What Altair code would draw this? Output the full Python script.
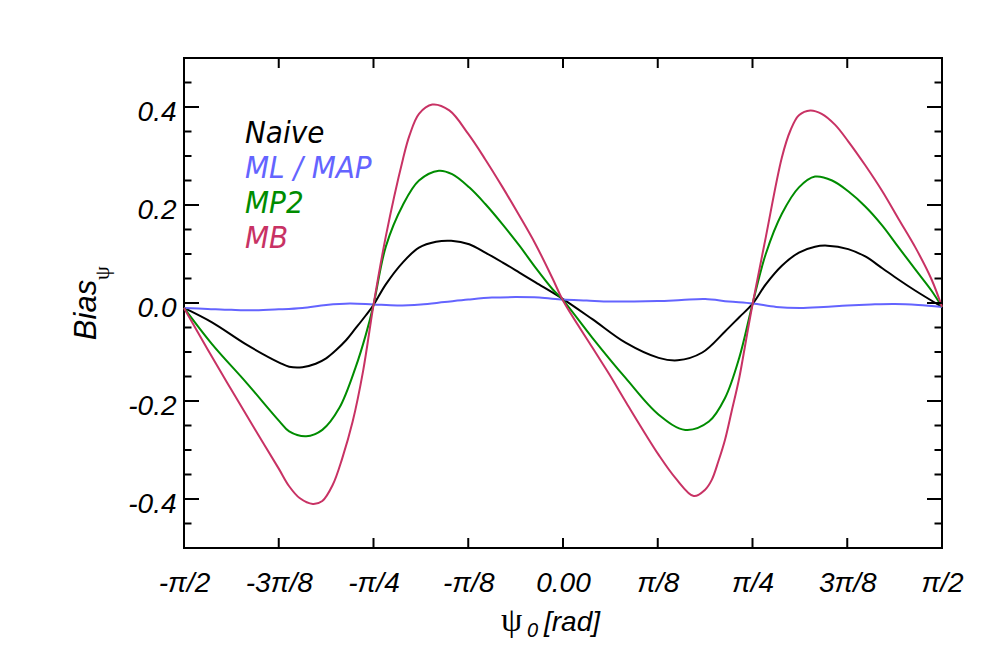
import json
import altair as alt
import pandas as pd

# x positions are in units of pi/8 (from -pi/2 = -4 to pi/2 = 4)
naive_x = [-4.0, -3.70, -3.34, -2.99, -2.89, -2.75, -2.61, -2.50, -2.40, -2.29, -2.19, -2.08,
           -2.0, -1.87, -1.69, -1.52, -1.34, -1.18, -0.99, -0.82, -0.64, -0.46, -0.29, 0.0,
           0.31, 0.66, 1.01, 1.21, 1.47, 1.71, 1.86, 2.0, 2.14, 2.31, 2.49, 2.66, 2.79,
           3.01, 3.19, 3.37, 3.54, 3.72, 4.0]
naive_y = [-0.010, -0.040, -0.085, -0.122, -0.130, -0.131, -0.124, -0.113, -0.097, -0.076, -0.052, -0.025,
           -0.004, 0.038, 0.083, 0.113, 0.125, 0.127, 0.120, 0.103, 0.083, 0.062, 0.042, 0.008,
           -0.033, -0.081, -0.112, -0.117, -0.101, -0.058, -0.029, -0.002, 0.038, 0.076, 0.103, 0.115, 0.117,
           0.110, 0.095, 0.071, 0.048, 0.025, -0.008]

ml_x = [-4.0, -3.75, -3.5, -3.25, -3.0, -2.75, -2.5, -2.25, -2.0, -1.75, -1.5, -1.25,
        -1.0, -0.75, -0.5, -0.25, 0.0, 0.25, 0.5, 0.75, 1.0, 1.25, 1.5, 1.75,
        2.0, 2.25, 2.5, 2.75, 3.0, 3.25, 3.5, 3.75, 4.0]
ml_y = [-0.010, -0.012, -0.014, -0.015, -0.013, -0.010, -0.004, -0.001, -0.003,
        -0.005, -0.003, 0.002, 0.007, 0.011, 0.012, 0.011, 0.007,
        0.005, 0.003, 0.003, 0.004, 0.006, 0.008, 0.003, -0.001,
        -0.008, -0.010, -0.008, -0.005, -0.003, -0.002, -0.004, -0.008]

mp2_x = [-4.0, -3.70, -3.34, -2.99, -2.89, -2.71, -2.54, -2.36, -2.19, -2.08, -2.0, -1.87,
         -1.69, -1.52, -1.31, -1.17, -0.99, -0.82, -0.64, -0.46, -0.29, -0.11, 0.0,
         0.31, 0.66, 1.01, 1.29, 1.54, 1.71, 1.86, 2.0, 2.14, 2.31, 2.49, 2.66, 2.84,
         3.01, 3.19, 3.37, 3.54, 3.72, 3.89, 4.0]
mp2_y = [-0.010, -0.085, -0.163, -0.242, -0.262, -0.272, -0.259, -0.214, -0.132, -0.064, -0.004, 0.115,
         0.200, 0.250, 0.270, 0.263, 0.236, 0.202, 0.161, 0.117, 0.072, 0.028, 0.006,
         -0.071, -0.153, -0.228, -0.259, -0.242, -0.194, -0.112, -0.002, 0.100, 0.182, 0.236, 0.258, 0.250,
         0.228, 0.197, 0.158, 0.114, 0.068, 0.025, -0.008]

mb_x = [-4.0, -3.75, -3.5, -3.25, -3.0, -2.89, -2.78, -2.64, -2.54, -2.43, -2.33, -2.22, -2.11,
        -2.0, -1.87, -1.69, -1.62, -1.52, -1.38, -1.20, -1.0, -0.82, -0.64, -0.46, -0.29, -0.11,
        0.0, 0.31, 0.49, 0.66, 1.01, 1.19, 1.38, 1.50, 1.57, 1.64, 1.71, 1.78, 1.86, 1.93,
        2.0, 2.14, 2.31, 2.40, 2.49, 2.61, 2.73, 2.87, 3.01, 3.19, 3.37, 3.54, 3.72, 3.89, 4.0]
mb_y = [-0.010, -0.095, -0.177, -0.258, -0.338, -0.374, -0.398, -0.410, -0.404, -0.371, -0.317, -0.242, -0.139,
        -0.004, 0.136, 0.293, 0.342, 0.386, 0.405, 0.393, 0.345, 0.293, 0.237, 0.178, 0.120, 0.050,
        0.005, -0.091, -0.146, -0.201, -0.310, -0.358, -0.394, -0.381, -0.361, -0.323, -0.279, -0.221, -0.153, -0.078,
        -0.003, 0.134, 0.297, 0.352, 0.383, 0.393, 0.386, 0.364, 0.330, 0.281, 0.228, 0.172, 0.113, 0.048, -0.008]

series_names = ["Naive", "ML / MAP", "MP2", "MB"]
series_colors = ["#000000", "#6464ff", "#008c00", "#c83264"]

x_label_values = [-4, -3, -2, -1, 0, 1, 2, 3, 4]
x_tick_labels = ["-π/2", "-3π/8", "-π/4", "-π/8", "0.00", "π/8", "π/4", "3π/8", "π/2"]
x_major_ticks = [-3, -2, -1, 0, 1, 2, 3]
y_major = [-0.4, -0.2, 0.0, 0.2, 0.4]
y_labels = ["-0.4", "-0.2", "0.0", "0.2", "0.4"]
y_minor = [-0.45, -0.35, -0.3, -0.25, -0.15, -0.1, -0.05,
           0.05, 0.1, 0.15, 0.25, 0.3, 0.35, 0.45]

W, H = 758, 490
FONT = "Liberation Sans"

rows = []
for name, xs, ys in zip(series_names, [naive_x, ml_x, mp2_x, mb_x], [naive_y, ml_y, mp2_y, mb_y]):
    for xv, yv in zip(xs, ys):
        rows.append({"x": xv, "y": yv, "series": name})
df = pd.DataFrame(rows)

xscale = alt.Scale(domain=[-4, 4], nice=False, zero=False)
yscale = alt.Scale(domain=[-0.5, 0.5], nice=False, zero=False)

xaxis = alt.Axis(values=x_label_values, ticks=False, domain=False, grid=False,
                 labelExpr=json.dumps(x_tick_labels, ensure_ascii=False) + "[round(datum.value)+4]",
                 labelFont=FONT, labelFontSize=28, labelFontStyle="italic", labelColor="black",
                 labelPadding=21, labelFlush=False, labelOverlap=False, title=None)
yaxis = alt.Axis(values=y_major, ticks=False, domain=False, grid=False,
                 labelExpr=json.dumps(y_labels) + "[round((datum.value+0.4)/0.2)]",
                 labelFont=FONT, labelFontSize=28, labelFontStyle="italic", labelColor="black",
                 labelPadding=8, labelOffset=5, labelFlush=False, labelOverlap=False, title=None)

lines = alt.Chart(df).mark_line(strokeWidth=2, interpolate="catmull-rom").encode(
    x=alt.X("x:Q", scale=xscale, axis=xaxis),
    y=alt.Y("y:Q", scale=yscale, axis=yaxis),
    color=alt.Color("series:N", scale=alt.Scale(domain=series_names, range=series_colors), legend=None),
)

xt = pd.DataFrame({"x": x_major_ticks})
bottom_ticks = alt.Chart(xt).mark_rule(color="black", strokeWidth=2).encode(
    x=alt.X("x:Q", scale=xscale, axis=xaxis), y=alt.value(H), y2=alt.value(H - 10))
top_ticks = alt.Chart(xt).mark_rule(color="black", strokeWidth=2).encode(
    x=alt.X("x:Q", scale=xscale, axis=xaxis), y=alt.value(0), y2=alt.value(10))

ymaj = pd.DataFrame({"y": y_major})
ymin = pd.DataFrame({"y": y_minor})
left_major = alt.Chart(ymaj).mark_rule(color="black", strokeWidth=2).encode(
    y=alt.Y("y:Q", scale=yscale, axis=yaxis), x=alt.value(0), x2=alt.value(15))
right_major = alt.Chart(ymaj).mark_rule(color="black", strokeWidth=2).encode(
    y=alt.Y("y:Q", scale=yscale, axis=yaxis), x=alt.value(W), x2=alt.value(W - 15))
left_minor = alt.Chart(ymin).mark_rule(color="black", strokeWidth=2).encode(
    y=alt.Y("y:Q", scale=yscale, axis=yaxis), x=alt.value(0), x2=alt.value(7.5))
right_minor = alt.Chart(ymin).mark_rule(color="black", strokeWidth=2).encode(
    y=alt.Y("y:Q", scale=yscale, axis=yaxis), x=alt.value(W), x2=alt.value(W - 7.5))


def label(text, x, y, size, color="black", style="italic", font=FONT, angle=0, align="left"):
    return alt.Chart(pd.DataFrame({"t": [text]})).mark_text(
        font=font, fontSize=size, fontStyle=style, color=color, angle=angle,
        align=align, baseline="alphabetic").encode(
        text="t:N", x=alt.value(x), y=alt.value(y))


legend_layers = []
for i, (name, col) in enumerate(zip(series_names, series_colors)):
    legend_layers.append(label(name, 61, 85 + 35 * i, 31, color=col,
                               font="DejaVu Sans Condensed, Liberation Sans"))

titles = [
    label("Bias", -88, 252, 31, angle=270, align="center"),
    label("ψ", -75, 222, 22, style="normal", font="Liberation Serif", angle=270),
    label("ψ", 317, 573, 34, style="normal", font="Liberation Serif"),
    label("0", 343, 579, 20),
    label("[rad]", 360, 573, 28),
]

chart = alt.layer(
    lines, bottom_ticks, top_ticks, left_major, right_major, left_minor, right_minor,
    *legend_layers, *titles
).properties(
    width=W, height=H,
    autosize=alt.AutoSizeParams(type="none"),
    padding={"left": 176, "top": 50, "right": 40, "bottom": 100},
    background="white",
).configure_view(stroke="black", strokeWidth=2)

chart.save("out.html", embed_options={"renderer": "svg", "actions": False})
